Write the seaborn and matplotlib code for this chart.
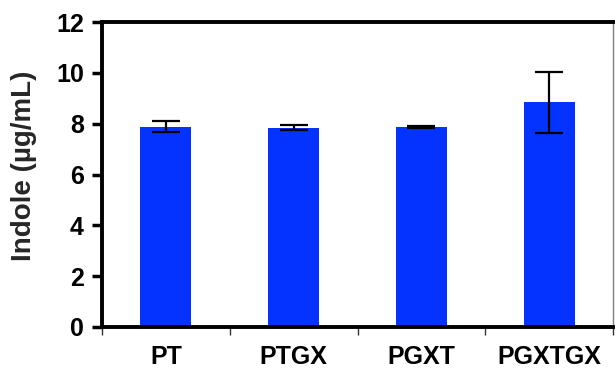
import matplotlib
matplotlib.use("Agg")
import matplotlib.pyplot as plt
import seaborn as sns
import pandas as pd
import numpy as np
from matplotlib.ticker import FixedLocator

categories = ["PT", "PTGX", "PGXT", "PGXTGX"]
indole = [7.88, 7.84, 7.86, 8.84]
err = [0.21, 0.10, 0.03, 1.20]
yticks = [0, 2, 4, 6, 8, 10, 12]

sns.set_theme(style="white")
plt.rcParams['font.family'] = ['Liberation Sans', 'DejaVu Sans']
plt.rcParams['font.weight'] = 'bold'

df = pd.DataFrame({"cat": categories, "val": indole})

fig = plt.figure(figsize=(6.15, 3.74), dpi=100)
ax = fig.add_axes([102/615, 1-327/374, (613-102)/615, (327-22)/374])

sns.barplot(data=df, x="cat", y="val", order=categories, color="#0433FF",
            saturation=1, width=0.4, errorbar=None, edgecolor="none", ax=ax)
ax.errorbar(np.arange(len(categories)), indole, yerr=err, fmt="none",
            ecolor="black", elinewidth=1.6, capsize=10, capthick=1.6, zorder=5)

ax.set_xlim(-0.5, len(categories) - 0.5)
ax.set_ylim(0, 12)
ax.set_yticks(yticks)
ax.set_yticklabels([str(t) for t in yticks], fontsize=18, fontweight='bold')
ax.set_xticklabels(categories, fontsize=18, fontweight='bold')
ax.xaxis.set_minor_locator(FixedLocator(np.arange(-0.5, len(categories) - 0.4, 1.0)))
ax.tick_params(axis='x', which='major', length=0, pad=13, colors='black')
ax.tick_params(axis='x', which='minor', bottom=True, length=6, width=1.0, color='#333333', direction='out')
ax.tick_params(axis='y', which='major', left=True, length=7, width=2.5, direction='out', pad=6, colors='black')

ax.set_xlabel("")
ax.set_ylabel("Indole (µg/mL)", fontsize=20, fontweight='bold')
ax.yaxis.set_label_coords(-0.127, 0.528)

for side in ['left', 'bottom', 'top']:
    ax.spines[side].set_visible(True)
    ax.spines[side].set_color('black')
    ax.spines[side].set_linewidth(2.8)
ax.spines['right'].set_visible(True)
ax.spines['right'].set_color('#808080')
ax.spines['right'].set_linewidth(1.0)

fig.savefig("out.png", dpi=100, facecolor="white")
